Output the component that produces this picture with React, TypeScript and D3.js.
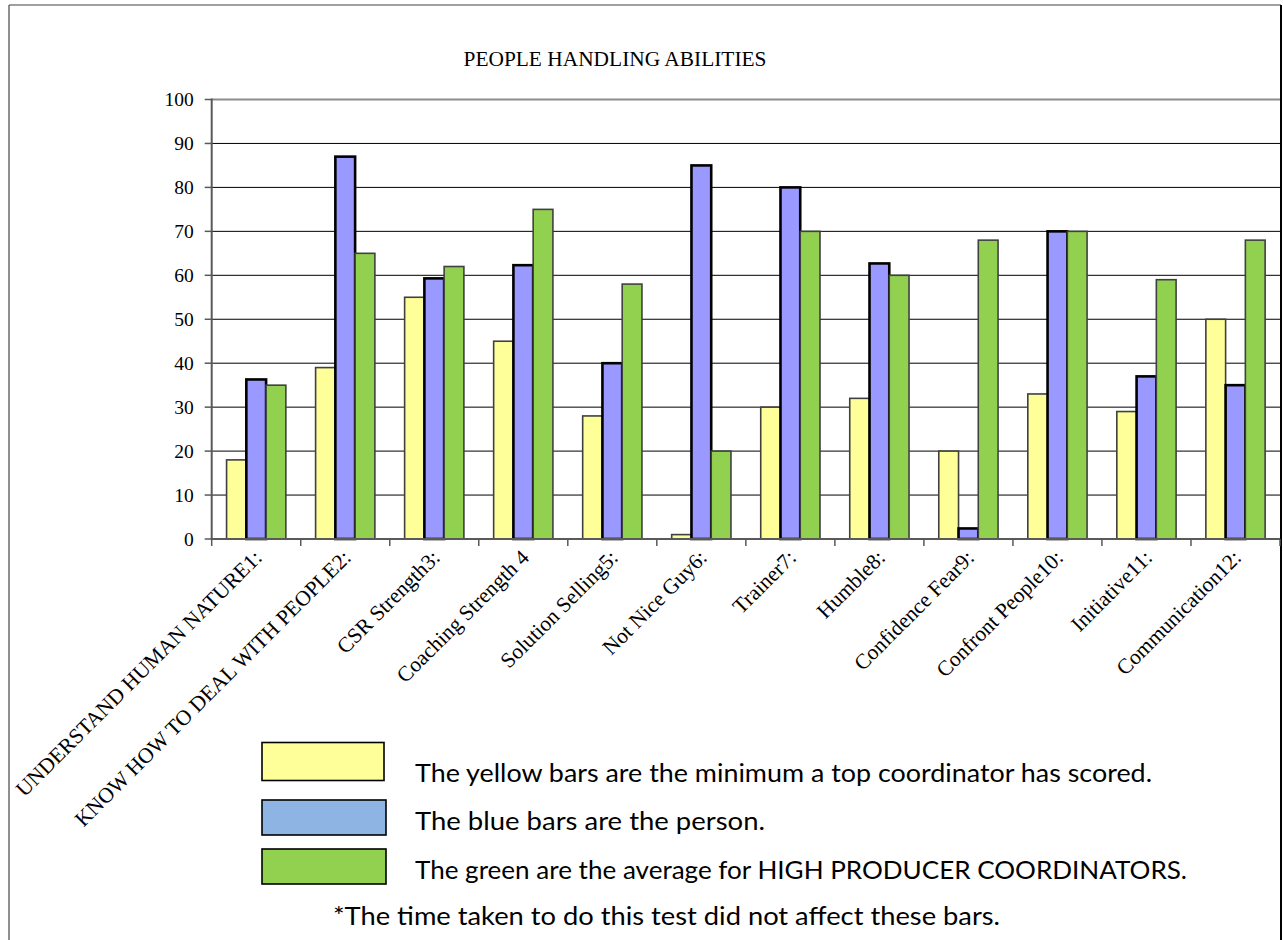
import React from "react";
import * as d3 from "d3";

const title = "PEOPLE HANDLING ABILITIES";
const categories = [
  "UNDERSTAND HUMAN NATURE1:",
  "KNOW HOW TO DEAL WITH PEOPLE2:",
  "CSR Strength3:",
  "Coaching Strength 4",
  "Solution Selling5:",
  "Not Nice Guy6:",
  "Trainer7:",
  "Humble8:",
  "Confidence Fear9:",
  "Confront People10:",
  "Initiative11:",
  "Communication12:",
];
const yellowValues = [18, 39, 55, 45, 28, 1, 30, 32, 20, 33, 29, 50];
const blueValues = [36.3, 87, 59.3, 62.3, 40, 85, 80, 62.7, 2.4, 70, 37, 35];
const greenValues = [35, 65, 62, 75, 58, 20, 70, 60, 68, 70, 59, 68];
const yTicks = [0, 10, 20, 30, 40, 50, 60, 70, 80, 90, 100];
const seriesKeys = ["yellow", "blue", "green"];
const legendTexts = [
  "The yellow bars are the minimum a top coordinator has scored.",
  "The blue bars are the person.",
  "The green are the average for HIGH PRODUCER COORDINATORS.",
];
const footnote = "*The time taken to do this test did not affect these bars.";

const W = 1283;
const H = 940;
const plotL = 211.7;
const plotR = 1280;
const plotT = 99.5;
const plotB = 539;

const seriesStyle: Record<string, { fill: string; stroke: string; sw: number }> = {
  yellow: { fill: "#FFFF99", stroke: "#404040", sw: 1.6 },
  blue: { fill: "#9999FF", stroke: "#000000", sw: 2.6 },
  green: { fill: "#92D050", stroke: "#404040", sw: 1.6 },
};

const legendFills = ["#FFFF99", "#8EB4E3", "#92D050"];

export default function App() {
  const x = d3.scaleBand<string>().domain(categories).range([plotL, plotR]).paddingInner(0).paddingOuter(0);
  const xi = d3
    .scaleBand<string>()
    .domain(seriesKeys)
    .range([0, x.bandwidth()])
    .paddingInner(0)
    .paddingOuter(0.753);
  const y = d3.scaleLinear().domain([0, 100]).range([plotB, plotT]);

  const data = categories.map((c, i) => ({
    c,
    yellow: yellowValues[i],
    blue: blueValues[i],
    green: greenValues[i],
  }));

  const serif = "'Liberation Serif', 'Times New Roman', serif";
  const sans = "Lato, 'Open Sans', sans-serif";

  const legendRows = [
    { sy: 742.5, sh: 38, sw: 122, ty: 781.5, tEnd: 1152 },
    { sy: 800, sh: 35, sw: 124, ty: 830, tEnd: 765 },
    { sy: 849, sh: 35, sw: 124, ty: 879, tEnd: 1187 },
  ];

  return (
    <svg
      width={W}
      height={H}
      style={{ position: "absolute", left: 0, top: 0, display: "block", background: "#fff" }}
    >
      <rect x={0} y={0} width={W} height={H} fill="#fff" />
      {/* outer border */}
      <line x1={9} y1={5} x2={1281} y2={5} stroke="#808080" strokeWidth={1.6} />
      <line x1={9} y1={5} x2={9} y2={H} stroke="#606060" strokeWidth={1.4} />
      <line x1={1281} y1={5} x2={1281} y2={H} stroke="#000" strokeWidth={2} />

      {/* title */}
      <text
        x={615}
        y={65.5}
        textAnchor="middle"
        fontFamily={serif}
        fontSize={20.5}
        textLength={303}
        lengthAdjust="spacingAndGlyphs"
        fill="#000"
      >
        {title}
      </text>

      {/* gridlines */}
      {yTicks
        .filter((t) => t > 0)
        .map((t) => (
          <line
            key={"g" + t}
            x1={plotL}
            x2={plotR}
            y1={y(t)}
            y2={y(t)}
            stroke={t === 100 ? "#8c8c8c" : "#000"}
            strokeWidth={t === 100 ? 2.2 : 1}
          />
        ))}

      {/* bars */}
      {data.map((d) =>
        seriesKeys.map((k) => {
          const v = (d as any)[k] as number;
          const st = seriesStyle[k];
          const bx = (x(d.c) as number) + (xi(k) as number);
          return (
            <rect
              key={d.c + k}
              x={bx}
              y={y(v)}
              width={xi.bandwidth()}
              height={plotB - y(v)}
              fill={st.fill}
              stroke={st.stroke}
              strokeWidth={st.sw}
            />
          );
        })
      )}

      {/* axes */}
      <line x1={plotL} x2={plotL} y1={plotT - 1} y2={plotB} stroke="#595959" strokeWidth={2} />
      <line x1={plotL - 1} x2={plotR} y1={plotB} y2={plotB} stroke="#595959" strokeWidth={2} />
      {yTicks.map((t) => (
        <g key={"yt" + t}>
          <line x1={plotL - 7} x2={plotL} y1={y(t)} y2={y(t)} stroke="#595959" strokeWidth={1.5} />
          <text
            x={plotL - 18}
            y={y(t) + 6.5}
            textAnchor="end"
            fontFamily={serif}
            fontSize={19.5}
            fill="#000"
          >
            {t}
          </text>
        </g>
      ))}
      {categories.map((c, i) => (
        <line
          key={"xt" + i}
          x1={(x(c) as number)}
          x2={(x(c) as number)}
          y1={plotB}
          y2={plotB + 7}
          stroke="#595959"
          strokeWidth={1.5}
        />
      ))}
      <line x1={plotR} x2={plotR} y1={plotB} y2={plotB + 7} stroke="#595959" strokeWidth={1.5} />

      {/* x labels */}
      {categories.map((c) => {
        const cx = (x(c) as number) + x.bandwidth() / 2 + 7;
        const cy = 559;
        return (
          <text
            key={"xl" + c}
            transform={`translate(${cx},${cy}) rotate(-45)`}
            textAnchor="end"
            fontFamily={serif}
            fontSize={21.5}
            fill="#000"
          >
            {c}
          </text>
        );
      })}

      {/* legend */}
      {legendRows.map((r, i) => (
        <g key={"lg" + i}>
          <rect
            x={262}
            y={r.sy}
            width={r.sw}
            height={r.sh}
            fill={legendFills[i]}
            stroke="#000"
            strokeWidth={1.6}
          />
          <text
            x={415}
            y={r.ty}
            fontFamily={sans}
            fontSize={24.5}
            textLength={r.tEnd - 415}
            lengthAdjust="spacingAndGlyphs"
            fill="#000"
          >
            {legendTexts[i]}
          </text>
        </g>
      ))}
      <text
        x={333}
        y={925}
        fontFamily={sans}
        fontSize={24.5}
        textLength={667}
        lengthAdjust="spacingAndGlyphs"
        fill="#000"
      >
        {footnote}
      </text>
    </svg>
  );
}
